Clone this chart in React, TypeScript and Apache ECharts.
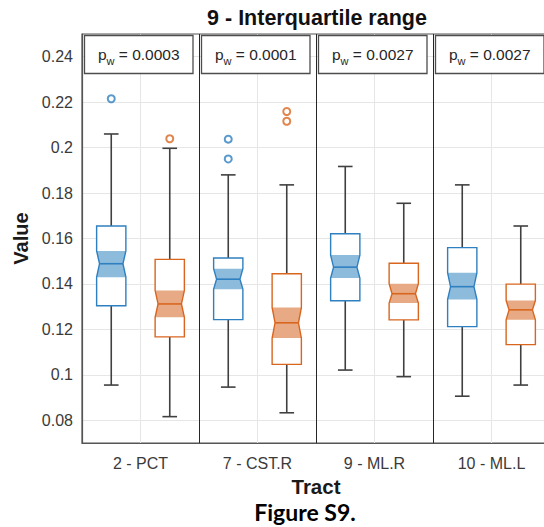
import React, { useEffect, useRef } from 'react';
import * as echarts from 'echarts';

const categories = ['2 - PCT', '7 - CST.R', '9 - ML.R', '10 - ML.L'];
const pValues = ['0.0003', '0.0001', '0.0027', '0.0027'];
const yTicks = [0.08, 0.1, 0.12, 0.14, 0.16, 0.18, 0.2, 0.22, 0.24];

// per tract: [lower whisker, Q1, notch low, median, notch high, Q3, upper whisker]
const blueBoxes = [
  [0.0955, 0.1304, 0.143, 0.1489, 0.1545, 0.1655, 0.206],
  [0.0946, 0.1243, 0.1377, 0.1421, 0.1467, 0.1514, 0.188],
  [0.1021, 0.1326, 0.1426, 0.1474, 0.1527, 0.1621, 0.1917],
  [0.0906, 0.1212, 0.1332, 0.1388, 0.1449, 0.156, 0.1836],
];
const orangeBoxes = [
  [0.0816, 0.1167, 0.1253, 0.1312, 0.1371, 0.1508, 0.1997],
  [0.0833, 0.1046, 0.1162, 0.1229, 0.1296, 0.1445, 0.1836],
  [0.0992, 0.1242, 0.1316, 0.1357, 0.1401, 0.1491, 0.1755],
  [0.0955, 0.1133, 0.1242, 0.1286, 0.1327, 0.1399, 0.1655],
];
// [tract index, value]
const blueOutliers = [[0, 0.2215], [1, 0.2037], [1, 0.195]];
const orangeOutliers = [[0, 0.2039], [1, 0.2159], [1, 0.2116]];

const FONT = '"Liberation Sans", Arial, sans-serif';
const BLUE = '#2f80c0';
const BLUE_FILL = '#8dbbdc';
const ORANGE = '#d9661f';
const ORANGE_FILL = '#e8aa84';
const WHISKER = '#404040';

function boxRenderer(offset: number, edge: string, fill: string) {
  return (params: any, api: any) => {
    const i = api.value(0);
    const xc = i + offset;
    const v = (k: number) => api.value(k);
    const y = (val: number) => api.coord([xc, val])[1];
    const cx = api.coord([xc, v(4)])[0];
    const bw = api.size([0.25, 0])[0];
    const hw = bw / 2;
    const L = cx - hw;
    const R = cx + hw;
    const ins = bw * 0.1;
    const cap = hw / 2;
    const lw = v(1), q1 = v(2), nl = v(3), med = v(4), nh = v(5), q3 = v(6), uw = v(7);
    const outline = [
      [L, y(q3)], [R, y(q3)], [R, y(nh)], [R - ins, y(med)], [R, y(nl)], [R, y(q1)],
      [L, y(q1)], [L, y(nl)], [L + ins, y(med)], [L, y(nh)],
    ];
    const notch = [
      [L, y(nh)], [R, y(nh)], [R - ins, y(med)], [R, y(nl)], [L, y(nl)], [L + ins, y(med)],
    ];
    const wStyle = { stroke: WHISKER, lineWidth: 1.6 };
    return {
      type: 'group',
      children: [
        { type: 'line', shape: { x1: cx, y1: y(q3), x2: cx, y2: y(uw) }, style: wStyle },
        { type: 'line', shape: { x1: cx, y1: y(q1), x2: cx, y2: y(lw) }, style: wStyle },
        { type: 'line', shape: { x1: cx - cap, y1: y(uw), x2: cx + cap, y2: y(uw) }, style: wStyle },
        { type: 'line', shape: { x1: cx - cap, y1: y(lw), x2: cx + cap, y2: y(lw) }, style: wStyle },
        { type: 'polygon', shape: { points: outline }, style: { fill: '#ffffff', stroke: 'none' } },
        { type: 'polygon', shape: { points: notch }, style: { fill, stroke: 'none' } },
        { type: 'polygon', shape: { points: outline }, style: { fill: 'none', stroke: edge, lineWidth: 1.4 } },
        { type: 'line', shape: { x1: L + ins, y1: y(med), x2: R - ins, y2: y(med) }, style: { stroke: edge, lineWidth: 1.6 } },
      ],
    };
  };
}

function pBoxRenderer(params: any, api: any) {
  const i = api.value(0);
  const top = api.coord([i, 0.25])[1] + 1.5;
  const x0 = api.coord([i, 0.25])[0] + 2.5;
  const x1 = api.coord([i + 1, 0.25])[0] - 6;
  const h = 38;
  const txt = pValues[params.dataIndex];
  return {
    type: 'group',
    children: [
      {
        type: 'rect',
        shape: { x: x0, y: top, width: x1 - x0, height: h },
        style: { fill: '#ffffff', stroke: '#4d4d4d', lineWidth: 1.3 },
      },
      {
        type: 'text',
        style: {
          text: `{p|p}{w|w}{t| = ${txt}}`,
          x: (x0 + x1) / 2,
          y: top + h / 2,
          align: 'center',
          verticalAlign: 'middle',
          textAlign: 'center',
          textVerticalAlign: 'middle',
          rich: {
            p: { fontSize: 15.5, fontFamily: FONT, fill: '#262626', lineHeight: 24, verticalAlign: 'middle' },
            w: { fontSize: 11, fontFamily: FONT, fill: '#262626', lineHeight: 12, verticalAlign: 'bottom' },
            t: { fontSize: 15.5, fontFamily: FONT, fill: '#262626', lineHeight: 24, verticalAlign: 'middle' },
          },
        },
      },
    ],
  };
}

export default function App() {
  const ref = useRef<HTMLDivElement>(null);
  useEffect(() => {
    if (!ref.current) return;
    const chart = echarts.init(ref.current, undefined, { renderer: 'svg' });
    const option: any = {
      animation: false,
      backgroundColor: '#ffffff',
      grid: { left: 82, top: 34, width: 468, height: 409, show: true, borderColor: '#555555', borderWidth: 1.2, backgroundColor: 'transparent' },
      xAxis: {
        type: 'value',
        min: 0,
        max: 4,
        interval: 0.5,
        name: 'Tract',
        nameLocation: 'middle',
        nameGap: 31,
        nameTextStyle: { fontFamily: FONT, fontWeight: 'bold', fontSize: 20.5, color: '#1a1a1a', lineHeight: 20 },
        axisLine: { show: true, lineStyle: { color: '#555555', width: 1.2 } },
        axisTick: { show: false },
        axisLabel: {
          margin: 12,
          fontFamily: FONT,
          fontSize: 16,
          color: '#3a3a3a',
          formatter: (val: number) => {
            const f = Math.floor(val);
            return Math.abs(val - f - 0.5) < 1e-6 && categories[f] ? categories[f] : '';
          },
        },
        splitLine: { show: true, lineStyle: { color: ['#262626', '#e6e6e6'], width: 1 } },
      },
      yAxis: {
        type: 'value',
        min: 0.07,
        max: 0.25,
        interval: 0.01,
        name: 'Value',
        nameLocation: 'middle',
        nameGap: 39,
        nameTextStyle: { fontFamily: FONT, fontWeight: 'bold', fontSize: 20, color: '#1a1a1a' },
        axisLine: { show: true, lineStyle: { color: '#555555', width: 1.2 } },
        axisTick: { show: false },
        axisLabel: {
          margin: 9,
          fontFamily: FONT,
          fontSize: 16,
          color: '#3a3a3a',
          formatter: (val: number) => {
            const t = yTicks.find((k) => Math.abs(k - val) < 1e-6);
            return t !== undefined ? String(t) : '';
          },
        },
        splitLine: { show: true, lineStyle: { color: ['rgba(0,0,0,0)', '#e6e6e6'], width: 1 } },
      },
      graphic: [
        {
          type: 'text',
          x: 317,
          y: 18,
          style: {
            text: '9 - Interquartile range',
            font: `bold 21.5px ${FONT}`,
            fill: '#111111',
            align: 'center',
            verticalAlign: 'middle',
            textAlign: 'center',
            textVerticalAlign: 'middle',
          },
        },
        {
          type: 'text',
          x: 305,
          y: 512,
          style: {
            text: 'Figure S9.',
            font: 'bold 23px Lato, "Open Sans", sans-serif',
            fill: '#000000',
            align: 'center',
            verticalAlign: 'middle',
            textAlign: 'center',
            textVerticalAlign: 'middle',
          },
        },
      ],
      series: [
        {
          type: 'custom',
          name: 'Group 1',
          renderItem: boxRenderer(0.25, BLUE, BLUE_FILL),
          data: blueBoxes.map((b, i) => [i, ...b]),
          encode: { x: 0, y: [1, 2, 3, 4, 5, 6, 7] },
          z: 3,
        },
        {
          type: 'custom',
          name: 'Group 2',
          renderItem: boxRenderer(0.75, ORANGE, ORANGE_FILL),
          data: orangeBoxes.map((b, i) => [i, ...b]),
          encode: { x: 0, y: [1, 2, 3, 4, 5, 6, 7] },
          z: 3,
        },
        {
          type: 'scatter',
          symbol: 'emptyCircle',
          symbolSize: 7,
          itemStyle: { color: BLUE, borderWidth: 1.6 },
          data: blueOutliers.map(([i, val]) => [i + 0.25, val]),
          z: 4,
        },
        {
          type: 'scatter',
          symbol: 'emptyCircle',
          symbolSize: 7,
          itemStyle: { color: ORANGE, borderWidth: 1.6 },
          data: orangeOutliers.map(([i, val]) => [i + 0.75, val]),
          z: 4,
        },
        {
          type: 'custom',
          name: 'p',
          renderItem: pBoxRenderer,
          data: pValues.map((_, i) => [i]),
          encode: { x: 0 },
          z: 5,
        },
      ],
    };
    chart.setOption(option);
    return () => chart.dispose();
  }, []);
  return (
    <div style={{ position: 'absolute', left: 0, top: 0, width: 544, height: 527, overflow: 'hidden' }}>
      <div ref={ref} style={{ width: 560, height: 527 }} />
    </div>
  );
}
